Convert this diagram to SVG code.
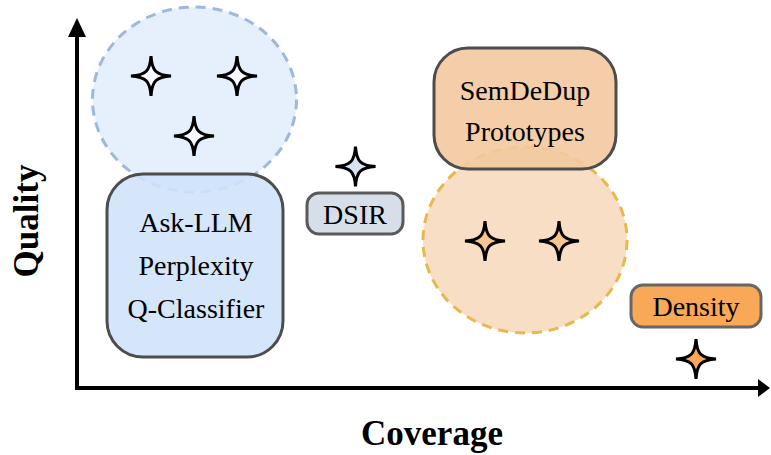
<svg xmlns="http://www.w3.org/2000/svg" xmlns:xlink="http://www.w3.org/1999/xlink" width="771" height="455" viewBox="0 0 771 455">
  <style>
    .lbl { font-family: "Liberation Serif", "Times New Roman", serif; font-size: 28px; fill: #000; text-anchor: middle; }
    .axis-lbl { font-family: "Liberation Serif", "Times New Roman", serif; font-size: 35px; font-weight: bold; fill: #000; text-anchor: middle; }
    .box { stroke-width: 3; }
    .cluster { stroke-width: 3; stroke-dasharray: 10 7; }
    .star { stroke: #000; stroke-width: 3; stroke-linejoin: miter; stroke-miterlimit: 10; }
    .axis { stroke: #000; stroke-width: 4; fill: none; }
  </style>
  <defs>
    <path id="star" d="M0,-20 C1,-5 5,-1 20,0 C5,1 1,5 0,20 C-1,5 -5,1 -20,0 C-5,-1 -1,-5 0,-20 Z"/>
  </defs>
  <rect width="771" height="455" fill="#ffffff"/>

  <g id="axes">
    <line class="axis" x1="77" y1="390" x2="77" y2="34"/>
    <polygon points="77,18 68,37 86,37" fill="#000"/>
    <line class="axis" x1="75" y1="388" x2="761" y2="388"/>
    <polygon points="770,388 758,379 758,397" fill="#000"/>
  </g>

  <g id="blue-cluster">
    <ellipse cx="194.5" cy="99.5" rx="102" ry="92.5" fill="#e6effc" stroke="#9fb8da" class="cluster"/>
    <use href="#star" x="151" y="76" class="star" fill="#f5f8ff"/>
    <use href="#star" x="237" y="76" class="star" fill="#f5f8ff"/>
    <use href="#star" x="194" y="136" class="star" fill="#f5f8ff"/>
  </g>

  <g id="ask-llm">
    <rect x="107" y="174" width="176" height="183" rx="36" fill="#cfe3fb" fill-opacity="0.88" stroke="#4d4d4d" class="box"/>
    <text class="lbl" x="196" y="232">Ask-LLM</text>
    <text class="lbl" x="196" y="275">Perplexity</text>
    <text class="lbl" x="196" y="318">Q-Classifier</text>
  </g>

  <g id="dsir">
    <use href="#star" x="355.5" y="166.5" class="star" fill="#d6e3f0"/>
    <rect x="307" y="193" width="96" height="41" rx="12" fill="#d6dfe9" stroke="#5a5a5a" class="box"/>
    <text class="lbl" x="355" y="224">DSIR</text>
  </g>

  <g id="orange-cluster">
    <ellipse cx="525" cy="240" rx="102" ry="93" fill="#f8dec4" stroke="#e9b84c" class="cluster"/>
    <use href="#star" x="485" y="241" class="star" fill="#f8c48f"/>
    <use href="#star" x="559" y="241" class="star" fill="#f8c48f"/>
  </g>

  <g id="semdedup">
    <rect x="434" y="48" width="182" height="121" rx="34" fill="#f2c99e" fill-opacity="0.9" stroke="#4d4d4d" class="box"/>
    <text class="lbl" x="525" y="100">SemDeDup</text>
    <text class="lbl" x="525" y="141">Prototypes</text>
  </g>

  <g id="density">
    <rect x="631" y="285" width="130" height="42" rx="12" fill="#f9a857" stroke="#666666" class="box"/>
    <text class="lbl" x="696" y="316">Density</text>
    <use href="#star" x="696" y="359" class="star" fill="#f9a857"/>
  </g>

  <g id="axis-labels">
    <text class="axis-lbl" x="432" y="445">Coverage</text>
    <text class="axis-lbl" transform="translate(38,221) rotate(-90)" x="0" y="0">Quality</text>
  </g>
</svg>
